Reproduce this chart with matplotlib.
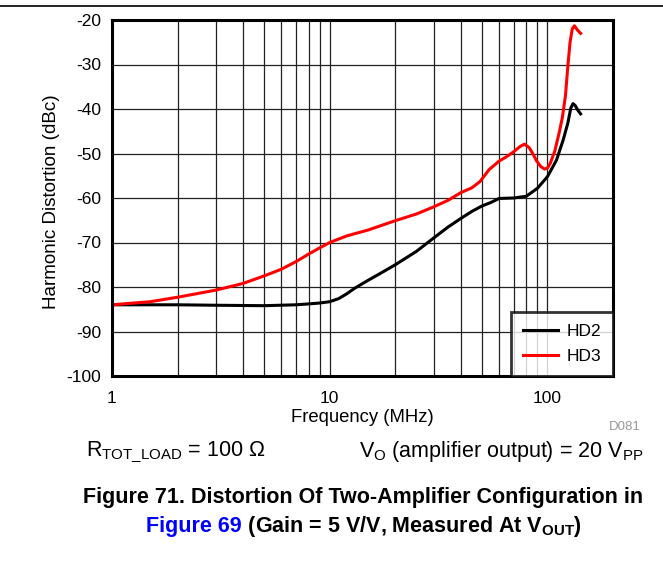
import numpy as np
import matplotlib.pyplot as plt
from matplotlib.ticker import FixedLocator, NullFormatter

plt.rcParams['font.family'] = ['Liberation Sans', 'DejaVu Sans']
plt.rcParams['mathtext.fontset'] = 'custom'
plt.rcParams['mathtext.rm'] = 'Liberation Sans'
plt.rcParams['mathtext.bf'] = 'Liberation Sans:bold'

# data
hd2_f = [1, 2, 3, 5, 7, 8, 9, 10, 11, 12, 13, 15, 17, 20, 25, 30, 35, 40, 45, 50,
         55, 60, 70, 80, 90, 100, 110, 118, 124, 128, 131, 134, 138, 142]
hd2_v = [-84, -84, -84.1, -84.2, -84.0, -83.8, -83.6, -83.3, -82.6, -81.5, -80.3, -78.5,
         -77, -75, -72, -69, -66.5, -64.6, -63, -61.8, -61, -60.1, -60, -59.6, -57.8,
         -55.2, -51.5, -47, -43.2, -39.8, -38.8, -39.2, -40.3, -41.1]

hd3_f = [1, 1.5, 2, 3, 4, 5, 6, 7, 8, 9, 10, 12, 15, 20, 25, 30, 35, 40, 45, 49, 54,
         60, 65, 70, 75, 78.5, 82.5, 86, 89, 93, 97, 100, 103, 108, 113, 117, 121, 124,
         127, 130, 133, 137, 142]
hd3_v = [-84, -83.3, -82.3, -80.7, -79.2, -77.5, -76, -74.3, -72.6, -71.2, -70, -68.5,
         -67.2, -65.1, -63.6, -62, -60.5, -58.8, -57.7, -56.3, -53.6, -51.7, -50.7, -49.6,
         -48.4, -47.9, -48.7, -50.2, -51.6, -52.9, -53.5, -53.3, -52.2, -49.5, -45.5, -42,
         -37, -30.5, -25, -22, -21.3, -22.2, -23]

yticks = [-100, -90, -80, -70, -60, -50, -40, -30, -20]
xticks = [1, 10, 100]

fig = plt.figure(figsize=(6.63, 5.75), dpi=100)
ax = fig.add_axes([112/663, 1-376/575, (613-112)/663, (376-20)/575])

ax.plot(hd2_f, hd2_v, color='black', lw=2.2, label='HD2')
ax.plot(hd3_f, hd3_v, color='#ff0000', lw=2.2, label='HD3')

ax.set_xscale('log')
ax.set_xlim(1, 200)
ax.set_ylim(-100, -20)
ax.set_yticks(yticks)
ax.set_yticklabels([str(t) for t in yticks])
ax.xaxis.set_major_locator(FixedLocator(xticks))
ax.set_xticklabels([str(t) for t in xticks])
ax.xaxis.set_minor_locator(FixedLocator([m*d for d in (1, 10, 100) for m in range(2, 10) if m*d < 200]))
ax.xaxis.set_minor_formatter(NullFormatter())
ax.tick_params(which='both', length=0, labelsize=12.5)
ax.tick_params(axis='y', pad=8)
ax.tick_params(axis='x', pad=11)
ax.grid(which='both', axis='x', color='#222222', lw=0.9)
ax.grid(which='major', axis='y', color='#222222', lw=0.9)
for s in ax.spines.values():
    s.set_linewidth(2.2)

ax.set_xlabel('Frequency (MHz)', fontsize=13.3, va='center')
ax.xaxis.set_label_coords(0.5, (376-418)/356)
ax.set_ylabel('Harmonic Distortion (dBc)', fontsize=13.6, va='center')
ax.yaxis.set_label_coords((52-112)/501, (376-201.5)/356)

leg = ax.legend(loc='lower right', fontsize=12.5, frameon=True, fancybox=False,
                borderaxespad=0, handlelength=2.0, borderpad=0.7, labelspacing=0.55,
                handletextpad=0.5)
leg.get_frame().set_edgecolor('black')
leg.get_frame().set_linewidth(2)

# header rule
fig.add_artist(plt.Line2D([0, 1], [1-6/575, 1-6/575], color='black', lw=1.2))

fig.text(641/663, 1-427/575, 'D081', color='#999999', fontsize=9.5, ha='right', va='center')
fig.text(86/663, 1-452/575, r'R$_{\mathregular{TOT\_LOAD}}$ = 100 Ω', fontsize=15.5,
         ha='left', va='center')
fig.text(643/663, 1-452/575, r'V$_{\mathregular{O}}$ (amplifier output) = 20 V$_{\mathregular{PP}}$',
         fontsize=15.5, ha='right', va='center')

fig.text(363/663, 1-498/575, 'Figure 71. Distortion Of Two-Amplifier Configuration in',
         fontsize=15.5, fontweight='bold', ha='center', va='center')
y2 = 1-532/575
t1 = fig.text(146/663, y2, 'Figure 69', fontsize=15.5, fontweight='bold',
              color='#0000ff', ha='left', va='baseline')
r = fig.canvas.get_renderer()
bb = t1.get_window_extent(r)
fig.text(bb.x1/fig.bbox.width, y2, r' (Gain = 5 V/V, Measured At V$_{\mathbf{OUT}}$)',
         fontsize=15.5, fontweight='bold', ha='left', va='baseline')

fig.savefig('out.png', dpi=100)
